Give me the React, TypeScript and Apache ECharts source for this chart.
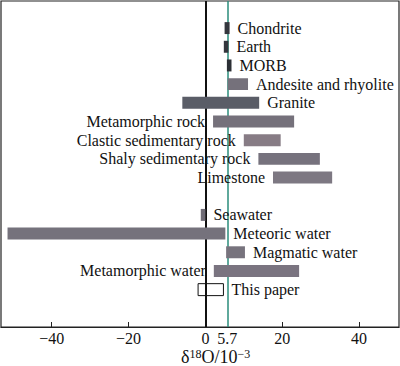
import React, { useEffect, useRef } from "react";
import * as echarts from "echarts";

// δ18O ranges (‰, i.e. 10^-3) for each reservoir; empty row separates rocks from waters
const categories = [
  "Chondrite",
  "Earth",
  "MORB",
  "Andesite and rhyolite",
  "Granite",
  "Metamorphic rock",
  "Clastic sedimentary rock",
  "Shaly sedimentary rock",
  "Limestone",
  "",
  "Seawater",
  "Meteoric water",
  "Magmatic water",
  "Metamorphic water",
  "This paper",
];
const lowValues = [5.0, 4.8, 5.6, 5.8, -6.0, 2.0, 10.0, 13.8, 17.6, null, -1.2, -51.5, 5.4, 2.2, -1.9];
const highValues = [6.3, 6.0, 6.8, 11.1, 14.0, 23.1, 19.6, 29.8, 33.0, null, 0.0, 5.2, 10.3, 24.4, 4.7];
const tickLabels = [-40, -20, 0, 5.7, 20, 40];
const tickMarks = [-40, -20, 20, 40];
const refLines = [0, 5.7];

// styling (kept apart from data)
const barColors = [
  "#33363d", "#33363d", "#2c2f35", "#75717b", "#5a5d67",
  "#75717b", "#877c85", "#76727d", "#7d7882", "",
  "#6f6c76", "#75727c", "#77737d", "#7a7480", "none",
];
const labelSide = [
  "right", "right", "right", "right", "right",
  "left", "left", "left", "left", "right",
  "right", "right", "right", "left", "right",
];

const SERIF = "Liberation Serif";

export default function App() {
  const ref = useRef<HTMLDivElement>(null);
  useEffect(() => {
    if (!ref.current) return;
    const chart = echarts.init(ref.current, null, { renderer: "svg" });
    const data = categories.map((c, i) => [lowValues[i], highValues[i], i]);
    chart.setOption({
      animation: false,
      textStyle: { fontFamily: SERIF },
      grid: {
        left: 1,
        right: 1,
        top: 1,
        bottom: 39,
        show: true,
        borderColor: "#222",
        borderWidth: 1.2,
        backgroundColor: "#fff",
      },
      xAxis: {
        type: "value",
        min: -53.2,
        max: 50.4,
        splitLine: { show: false },
        axisLine: { show: true, onZero: false, lineStyle: { color: "#222", width: 1.2 } },
        axisTick: {
          show: true,
          inside: true,
          length: 5,
          customValues: tickMarks,
          lineStyle: { color: "#222", width: 1 },
        },
        axisLabel: {
          customValues: tickLabels,
          fontFamily: SERIF,
          fontSize: 16,
          color: "#111",
          margin: 3,
          formatter: (v: number) => (v < 0 ? "\u2212" + Math.abs(v) : String(v)),
        },
      },
      yAxis: {
        type: "value",
        inverse: true,
        min: -1.45,
        max: 16,
        show: false,
        splitLine: { show: false },
      },
      graphic: [
        {
          type: "text",
          left: 181,
          top: 348,
          style: {
            text: "δ{sup|18}O/10{sup|\u22123}",
            fontFamily: SERIF,
            fontSize: 18,
            lineHeight: 18,
            fill: "#111",
            rich: {
              sup: { fontSize: 12, fontFamily: SERIF, fill: "#111", lineHeight: 18, padding: [0, 0, 6, 0] },
            },
          },
        },
      ],
      series: [
        {
          type: "line",
          data: [],
          z: 1,
          markLine: {
            silent: true,
            symbol: "none",
            label: { show: false },
            data: [
              { xAxis: refLines[0], lineStyle: { color: "#111", width: 2, type: "solid" } },
              { xAxis: refLines[1], lineStyle: { color: "#2a8c7b", width: 1.5, type: "solid" } },
            ],
          },
        },
        {
          type: "custom",
          z: 5,
          data,
          encode: { x: [0, 1], y: 2 },
          renderItem: (params: any, api: any) => {
            const i = params.dataIndex;
            const lo = api.value(0);
            const hi = api.value(1);
            const row = api.value(2);
            if (categories[i] === "" || isNaN(lo)) return null;
            const p0 = api.coord([lo, row]);
            const p1 = api.coord([hi, row]);
            const h = api.size([0, 0.64])[1];
            const isBox = barColors[i] === "none";
            const side = labelSide[i];
            const gap = 8;
            return {
              type: "group",
              children: [
                {
                  type: "rect",
                  shape: { x: p0[0], y: p0[1] - h / 2, width: p1[0] - p0[0], height: h },
                  style: isBox
                    ? { fill: "none", stroke: "#111", lineWidth: 1 }
                    : { fill: barColors[i] },
                },
                {
                  type: "text",
                  x: side === "left" ? p0[0] - gap : p1[0] + gap,
                  y: p0[1],
                  style: {
                    text: categories[i],
                    fontFamily: SERIF,
                    fontSize: 16,
                    fill: "#111",
                    align: side === "left" ? "right" : "left",
                    verticalAlign: "middle",
                  },
                },
              ],
            };
          },
        },
      ],
    });
    return () => chart.dispose();
  }, []);
  return <div ref={ref} style={{ width: 400, height: 366, position: "absolute", left: 0, top: 0 }} />;
}
